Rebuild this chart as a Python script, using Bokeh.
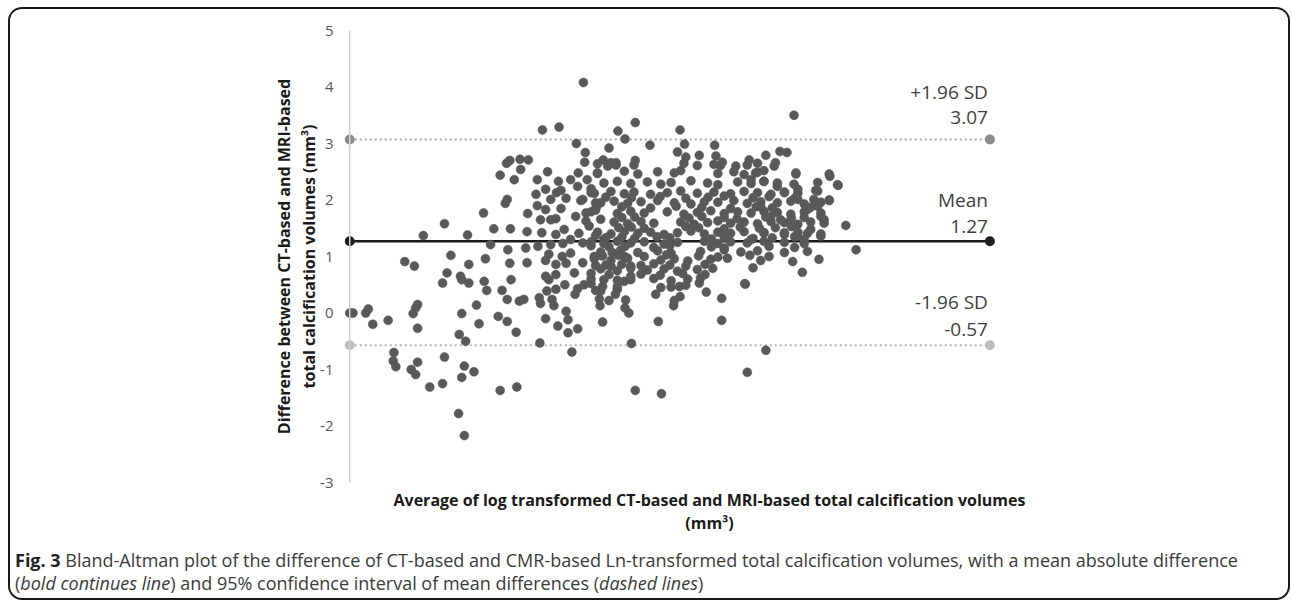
from bokeh.plotting import figure
from bokeh.models import Range1d, FixedTicker, Span, Div, ColumnDataSource
from bokeh.layouts import column
from bokeh.embed import file_html
from bokeh.resources import INLINE
from bokeh.core.properties import value

# ---- summary statistics (Bland-Altman) ----
mean_diff = 1.27
upper_loa = 3.07
lower_loa = -0.57
line_x = [0, 10]
y_ticks = [-3, -2, -1, 0, 1, 2, 3, 4, 5]

# ---- scatter points (average of ln volumes, difference) ----
avg_a = [0.00, 0.05, 0.25, 0.29, 0.36, 0.60, 0.99, 1.03, 1.06, 1.06, 1.45, 0.69, 0.68, 0.72, 0.96, 1.03, 1.06, 1.25, 1.45, 1.48]
diff_a = [0.00, 0.00, 0.00, 0.07, -0.20, -0.13, -0.01, 0.09, 0.15, -0.27, 0.53, -0.70, -0.85, -0.95, -1.00, -1.09, -0.87, -1.31, -1.25, -0.78]
avg_b = [1.15, 1.48, 0.86, 1.01, 1.58, 1.52]
diff_b = [1.37, 1.58, 0.91, 0.83, 1.02, 0.71]

avg_c1 = [1.75, 1.86, 2.10, 2.14, 2.38, 2.46, 2.52, 2.65, 2.72, 2.96, 2.98, 3.08]
diff_c1 = [0.59, 0.53, 0.56, 0.40, 0.40, 0.24, 0.59, 0.21, 0.24, 0.27, 0.17, 0.39]
avg_c2 = [3.11, 3.16, 3.19, 3.36, 3.52, 3.56, 3.66, 3.77, 3.38, 3.41, 3.41, 3.25]
diff_c2 = [0.59, 0.24, 0.13, 0.50, 0.33, 0.43, 0.50, 0.52, 0.03, -0.12, -0.35, -0.23]
avg_c3 = [3.56, 3.06, 2.97, 3.47, 2.60, 2.46, 2.32, 2.02, 1.98, 1.75, 1.71, 1.81]
diff_c3 = [-0.28, -0.10, -0.53, -0.69, -0.34, -0.15, -0.06, -0.19, 0.14, -0.01, -0.38, -0.50]
avg_c4 = [1.79, 1.94, 1.75, 2.35, 2.61, 1.70, 1.79, 3.91, 3.95, 4.05, 3.92, 3.95]
diff_c4 = [-0.94, -1.04, -1.14, -1.37, -1.31, -1.78, -2.17, 0.13, -0.16, 0.22, 0.39, 0.47]
avg_c5 = [4.18, 4.15, 4.29, 4.39, 4.30, 4.36, 4.40, 4.46, 4.87, 4.82, 4.78, 4.86]
diff_c5 = [0.42, 0.33, 0.56, 0.59, 0.09, 0.00, -0.54, -1.37, -1.43, -0.15, 0.33, 0.45]
avg_c6 = [5.02, 5.15, 5.25, 5.16, 5.06, 5.46, 5.57, 5.81, 5.81, 6.18, 6.21, 6.50]
diff_c6 = [0.46, 0.47, 0.49, 0.29, 0.13, 0.53, 0.37, 0.26, -0.13, 0.51, -1.05, -0.66]

avg_d1 = [3.65, 6.94, 3.01, 3.27, 4.46, 4.19, 4.30, 5.16, 3.54, 3.68, 4.05, 4.69]
diff_d1 = [4.08, 3.50, 3.24, 3.29, 3.37, 3.22, 3.08, 3.24, 3.00, 2.84, 2.92, 2.97]
avg_d2 = [5.23, 5.12, 5.25, 5.70, 5.72, 5.46, 6.72, 6.83, 6.50, 6.65, 6.24, 5.79]
diff_d2 = [2.99, 2.85, 2.76, 2.97, 2.78, 2.79, 2.86, 2.84, 2.79, 2.66, 2.71, 2.61]
avg_d3 = [6.03, 6.97, 7.50, 7.63, 7.49, 7.28, 7.75, 7.91, 7.33, 7.07, 6.92, 6.17]
diff_d3 = [2.60, 2.48, 2.42, 2.26, 2.00, 2.17, 1.55, 1.12, 0.95, 0.72, 0.91, 0.52]
avg_d4 = [6.30, 3.67, 3.96, 4.08, 4.16, 4.46, 2.50, 2.66, 2.79, 2.67, 2.35]
diff_d4 = [0.80, 2.67, 2.71, 2.66, 2.62, 2.70, 2.70, 2.72, 2.71, 2.54, 2.44]
avg_d5 = [2.57, 2.45, 3.09, 2.93, 3.26, 3.23, 2.91, 2.46, 2.43, 2.93, 2.09, 2.78]
diff_d5 = [2.36, 2.65, 2.50, 2.36, 2.33, 2.13, 2.10, 2.01, 1.94, 1.90, 1.77, 1.76]
avg_d6 = [1.84, 2.25, 2.51, 2.77, 3.00, 2.20, 2.47, 2.75, 2.94, 1.86, 2.12, 2.50]
diff_d6 = [1.38, 1.49, 1.49, 1.44, 1.42, 1.21, 1.12, 1.15, 1.18, 0.86, 0.96, 0.88]
avg_d7 = [2.77, 1.73, 3.06, 3.06, 3.32, 3.14, 3.35, 3.45, 3.53, 3.64, 3.56, 3.45]
diff_d7 = [0.89, 0.65, 0.93, 0.65, 1.00, 1.65, 1.48, 1.30, 1.71, 2.01, 2.24, 2.36]
avg_d8 = [3.57, 3.71, 3.77, 3.84, 3.87, 3.69, 3.74, 3.64, 3.82, 3.64, 3.51, 3.97]
diff_d8 = [2.48, 2.36, 2.13, 1.95, 2.48, 1.77, 1.54, 1.24, 1.00, 0.89, 0.71, 0.59]
avg_d9 = [4.18, 3.97, 4.10, 4.29, 4.39, 4.39, 4.08]
diff_d9 = [0.47, 1.30, 1.07, 1.00, 0.83, 0.65, 0.83]

avg_e1 = [3.87, 4.03, 4.16, 4.44, 5.22, 5.43, 5.69, 5.82, 6.21, 6.37, 6.63]
diff_e1 = [2.64, 2.60, 2.66, 2.62, 2.65, 2.61, 2.63, 2.67, 2.62, 2.65, 2.60]
avg_e2 = [3.87, 4.29, 4.50, 4.81, 5.07, 5.17, 5.75, 6.00, 6.16, 6.37, 6.47, 6.97, 7.49]
diff_e2 = [2.47, 2.51, 2.46, 2.50, 2.48, 2.52, 2.47, 2.50, 2.45, 2.49, 2.52, 2.46, 2.46]
avg_e3 = [3.97, 4.18, 4.39, 4.65, 4.86, 5.02, 5.33, 5.59, 5.75, 6.06, 6.27, 6.47, 6.68, 6.94, 7.31, 7.62]
diff_e3 = [2.30, 2.33, 2.29, 2.32, 2.28, 2.31, 2.34, 2.30, 2.27, 2.32, 2.29, 2.33, 2.30, 2.28, 2.31, 2.27]
avg_e4 = [3.82, 4.08, 4.29, 4.44, 4.70, 4.96, 5.17, 5.43, 5.69, 5.95, 6.16, 6.37, 6.58, 6.79, 7.00, 7.31]
diff_e4 = [2.12, 2.15, 2.11, 2.14, 2.10, 2.13, 2.16, 2.12, 2.14, 2.11, 2.15, 2.13, 2.10, 2.14, 2.12, 2.16]
avg_e5 = [3.92, 4.13, 4.34, 4.55, 4.81, 5.07, 5.33, 5.54, 5.75, 6.00, 6.21, 6.42, 6.68, 6.89, 7.10, 7.36, 7.49]
diff_e5 = [1.95, 1.98, 1.94, 1.97, 1.99, 1.95, 1.93, 1.97, 1.96, 1.99, 1.94, 1.97, 1.95, 1.98, 1.93, 1.96, 1.99]
avg_e6 = [3.77, 4.18, 4.39, 4.60, 4.96, 5.22, 5.43, 5.64, 5.85, 6.06, 6.27, 6.47, 6.68, 6.89, 7.10, 7.36]
diff_e6 = [1.79, 1.76, 1.80, 1.77, 1.79, 1.75, 1.78, 1.81, 1.76, 1.79, 1.77, 1.80, 1.78, 1.75, 1.79, 1.77]
avg_e7 = [4.13, 4.34, 4.55, 4.75, 5.17, 5.38, 5.59, 5.75, 5.95, 6.16, 6.37, 6.58, 6.79, 7.00, 7.20, 7.41]
diff_e7 = [1.61, 1.58, 1.62, 1.59, 1.61, 1.57, 1.60, 1.63, 1.59, 1.61, 1.58, 1.62, 1.60, 1.57, 1.61, 1.59]
avg_e8 = [3.87, 4.08, 4.29, 4.50, 4.70, 4.91, 5.12, 5.33, 5.54, 5.75, 5.95, 6.16, 6.47, 6.79, 7.00, 7.15, 7.36]
diff_e8 = [1.43, 1.40, 1.44, 1.41, 1.43, 1.39, 1.42, 1.45, 1.40, 1.43, 1.41, 1.44, 1.42, 1.39, 1.43, 1.41, 1.40]
avg_e9 = [3.77, 3.97, 4.18, 4.39, 4.60, 4.91, 5.12, 5.54, 5.75, 5.95, 6.21, 6.47, 6.79, 7.10]
diff_e9 = [1.26, 1.23, 1.27, 1.24, 1.26, 1.22, 1.25, 1.27, 1.23, 1.26, 1.24, 1.27, 1.25, 1.23]
avg_e10 = [3.92, 4.23, 4.50, 4.81, 5.02, 5.48, 5.85, 6.11, 6.37, 6.79, 7.15]
diff_e10 = [1.08, 1.11, 1.07, 1.10, 1.06, 1.09, 1.12, 1.08, 1.10, 1.07, 1.09]
avg_e11 = [3.82, 4.08, 4.34, 4.86, 5.07, 5.28, 5.64, 5.90, 6.42]
diff_e11 = [0.96, 0.93, 0.97, 0.94, 0.96, 0.92, 0.95, 0.97, 0.93]
avg_e12 = [3.92, 4.18, 4.39, 4.65, 4.91, 5.12, 5.43, 5.67]
diff_e12 = [0.78, 0.75, 0.79, 0.76, 0.78, 0.74, 0.77, 0.79]
avg_e13 = [3.77, 4.18, 4.75, 5.02, 5.28, 5.48, 3.90, 4.31, 5.07]
diff_e13 = [0.60, 0.58, 0.61, 0.57, 0.60, 0.62, 0.25, 0.23, 0.22]

# in-between readings of the dense central cloud
avg_h1 = [4.00, 4.40, 4.85, 5.25, 5.60, 5.85, 6.30, 6.55, 6.95]
diff_h1 = [2.05, 2.04, 2.06, 2.03, 2.05, 2.07, 2.04, 2.06, 2.03]
avg_h2 = [3.85, 4.25, 4.70, 5.10, 5.50, 5.95, 6.35, 6.60, 7.20]
diff_h2 = [1.87, 1.88, 1.86, 1.89, 1.87, 1.85, 1.88, 1.86, 1.87]
avg_h3 = [4.25, 4.45, 5.30, 5.50, 5.85, 6.05, 6.50, 6.90, 7.10]
diff_h3 = [1.69, 1.70, 1.68, 1.71, 1.69, 1.67, 1.70, 1.68, 1.69]
avg_h4 = [4.20, 4.40, 4.60, 5.25, 5.45, 5.85, 6.10, 6.40, 6.65, 6.90]
diff_h4 = [1.51, 1.52, 1.50, 1.53, 1.51, 1.49, 1.52, 1.50, 1.51, 1.53]
avg_h5 = [4.00, 4.25, 4.45, 4.80, 5.00, 5.65, 5.85, 6.30, 6.60, 6.95]
diff_h5 = [1.33, 1.34, 1.32, 1.35, 1.33, 1.31, 1.34, 1.32, 1.33, 1.35]
avg_h6 = [4.05, 4.30, 4.75, 5.00, 5.65, 5.85, 6.55, 6.95]
diff_h6 = [1.17, 1.18, 1.16, 1.19, 1.17, 1.15, 1.18, 1.16]
avg_h7 = [3.95, 4.20, 4.60, 4.95, 5.45, 5.75, 6.25, 6.55]
diff_h7 = [1.01, 1.02, 1.00, 1.03, 1.01, 0.99, 1.02, 1.00]
avg_h8 = [4.00, 4.25, 4.55, 4.75, 5.00, 5.25, 5.55]
diff_h8 = [0.85, 0.86, 0.84, 0.87, 0.85, 0.83, 0.86]
avg_h9 = [4.05, 4.55, 4.85, 5.20, 5.55]
diff_h9 = [0.68, 0.69, 0.67, 0.70, 0.68]

avg_f = [3.06, 3.30, 3.77, 3.14, 3.38, 3.61, 3.06, 3.30, 3.84, 2.98, 3.22, 3.69, 3.92, 3.22, 3.58,
         3.84, 3.14, 3.33, 3.77, 3.11, 3.45, 3.92, 3.22, 3.38, 3.84, 3.22, 3.77, 3.22, 3.84]
diff_f = [2.19, 2.17, 2.20, 2.01, 2.03, 1.99, 1.83, 1.85, 1.82, 1.65, 1.67, 1.63, 1.66, 1.39, 1.41,
          1.37, 1.21, 1.23, 1.19, 1.04, 1.06, 1.02, 0.86, 0.88, 0.84, 0.68, 0.70, 0.42, 0.40]
avg_g = [6.27, 6.34, 6.47, 6.68, 6.79, 7.00, 7.00, 7.15, 7.25, 7.31, 7.36, 7.41, 7.20, 7.10, 7.36,
         7.00, 6.79, 6.73, 6.58, 6.42, 6.47, 6.27]
diff_g = [2.36, 2.48, 2.33, 2.24, 2.13, 2.19, 2.01, 1.83, 2.01, 1.89, 1.71, 1.65, 1.48, 1.30, 1.36,
          1.36, 1.42, 1.65, 1.71, 1.89, 1.42, 1.30]

avg_groups = [avg_a, avg_b, avg_c1, avg_c2, avg_c3, avg_c4, avg_c5, avg_c6,
              avg_d1, avg_d2, avg_d3, avg_d4, avg_d5, avg_d6, avg_d7, avg_d8, avg_d9,
              avg_e1, avg_e2, avg_e3, avg_e4, avg_e5, avg_e6, avg_e7, avg_e8, avg_e9,
              avg_e10, avg_e11, avg_e12, avg_e13,
              avg_h1, avg_h2, avg_h3, avg_h4, avg_h5, avg_h6, avg_h7, avg_h8, avg_h9,
              avg_f, avg_g]
diff_groups = [diff_a, diff_b, diff_c1, diff_c2, diff_c3, diff_c4, diff_c5, diff_c6,
               diff_d1, diff_d2, diff_d3, diff_d4, diff_d5, diff_d6, diff_d7, diff_d8, diff_d9,
               diff_e1, diff_e2, diff_e3, diff_e4, diff_e5, diff_e6, diff_e7, diff_e8, diff_e9,
               diff_e10, diff_e11, diff_e12, diff_e13,
               diff_h1, diff_h2, diff_h3, diff_h4, diff_h5, diff_h6, diff_h7, diff_h8, diff_h9,
               diff_f, diff_g]
avg_all, diff_all = [], []
for ga, gd in zip(avg_groups, diff_groups):
    n = min(len(ga), len(gd))
    avg_all += ga[:n]
    diff_all += gd[:n]

FONT = "Open Sans"

p = figure(width=1278, height=540, x_range=Range1d(-0.16, 11.40), y_range=Range1d(-3, 5),
           output_backend="svg", toolbar_location=None,
           min_border_left=329, min_border_right=209, min_border_top=21, min_border_bottom=67)
p.grid.visible = False
p.outline_line_color = None
p.background_fill_color = "white"
p.border_fill_color = "white"

# y axis
yax = p.yaxis[0]
yax.ticker = FixedTicker(ticks=y_ticks)
yax.major_label_overrides = {t: str(t) for t in y_ticks}
yax.axis_line_color = None
yax.major_tick_line_color = None
yax.major_tick_out = 0
yax.major_tick_in = 0
yax.minor_tick_line_color = None
yax.minor_tick_out = 0
yax.major_label_text_font = FONT
yax.major_label_text_font_size = "15px"
yax.major_label_text_color = "#595959"
yax.major_label_standoff = 6
yax.axis_label = "Difference between CT-based and MRI-based\ntotal calcification volumes (mm\u00b3)"
yax.axis_label_text_font = FONT
yax.axis_label_text_font_style = "bold"
yax.axis_label_text_font_size = "16px"
yax.axis_label_text_line_height = 1.12
yax.axis_label_text_color = "#1a1a1a"
yax.axis_label_standoff = -3

# x axis (no ticks, only title)
xax = p.xaxis[0]
xax.ticker = FixedTicker(ticks=[])
xax.axis_line_color = None
xax.major_tick_line_color = None
xax.minor_tick_line_color = None
xax.axis_label = "Average of log transformed CT-based and MRI-based total calcification volumes\n(mm\u00b3)"
xax.axis_label_text_font = FONT
xax.axis_label_text_font_style = "bold"
xax.axis_label_text_font_size = "16px"
xax.axis_label_text_line_height = 1.05
xax.axis_label_text_color = "#1a1a1a"
xax.axis_label_standoff = 6

# vertical axis line at x = 0
p.add_layout(Span(location=0, dimension="height", line_color="#d0d0d0", line_width=1.5))

# limit-of-agreement lines
p.line(line_x, [upper_loa, upper_loa], line_color="#a8a8a8", line_width=2, line_dash="2 3")
p.line(line_x, [lower_loa, lower_loa], line_color="#b4b4b4", line_width=2, line_dash="2 3")
p.line(line_x, [mean_diff, mean_diff], line_color="#1a1a1a", line_width=2.5)

# data points
p.scatter(avg_all, diff_all, size=9, fill_color="#595959", line_color="#595959", line_width=0.5)

# end markers of the lines
p.scatter(line_x, [upper_loa, upper_loa], size=10, fill_color="#8c8c8c", line_color=None)
p.scatter(line_x, [mean_diff, mean_diff], size=10, fill_color="#1f1f1f", line_color=None)
p.scatter(line_x, [lower_loa, lower_loa], size=10, fill_color="#bdbdbd", line_color=None)

# labels at the right end
lab = ColumnDataSource(dict(
    x=[line_x[1]] * 6,
    y=[upper_loa, upper_loa, mean_diff, mean_diff, lower_loa, lower_loa],
    t=["+1.96 SD", f"{upper_loa:.2f}", "Mean", f"{mean_diff:.2f}", "-1.96 SD", f"{lower_loa:.2f}"],
    dy=[-48, -22, -41, -15, -43, -16],
))
p.text(x="x", y="y", text="t", source=lab, x_offset=-2, y_offset="dy",
       text_align="right", text_baseline="middle", text_font=value(FONT),
       text_font_size="19px", text_color="#404040")

caption_html = (
    '<div style="font-family:\'Open Sans\',sans-serif;font-size:18px;line-height:23px;'
    'color:#3a3a3a;white-space:nowrap;padding-left:5px;padding-top:0px">'
    '<b style="color:#222">Fig. 3</b> Bland-Altman plot of the difference of CT-based and CMR-based '
    'Ln-transformed total calcification volumes, with a mean absolute difference<br>'
    '(<i>bold continues line</i>) and 95% confidence interval of mean differences (<i>dashed lines</i>)'
    '</div>'
)
cap = Div(text=caption_html, width=1278, height=49, margin=0)

layout = column(p, cap, spacing=0, margin=(7, 0, 0, 8),
                styles={"border": "2px solid #1a1a1a", "border-radius": "14px", "overflow": "hidden"})

with open("out.html", "w") as f:
    f.write(file_html(layout, INLINE))
